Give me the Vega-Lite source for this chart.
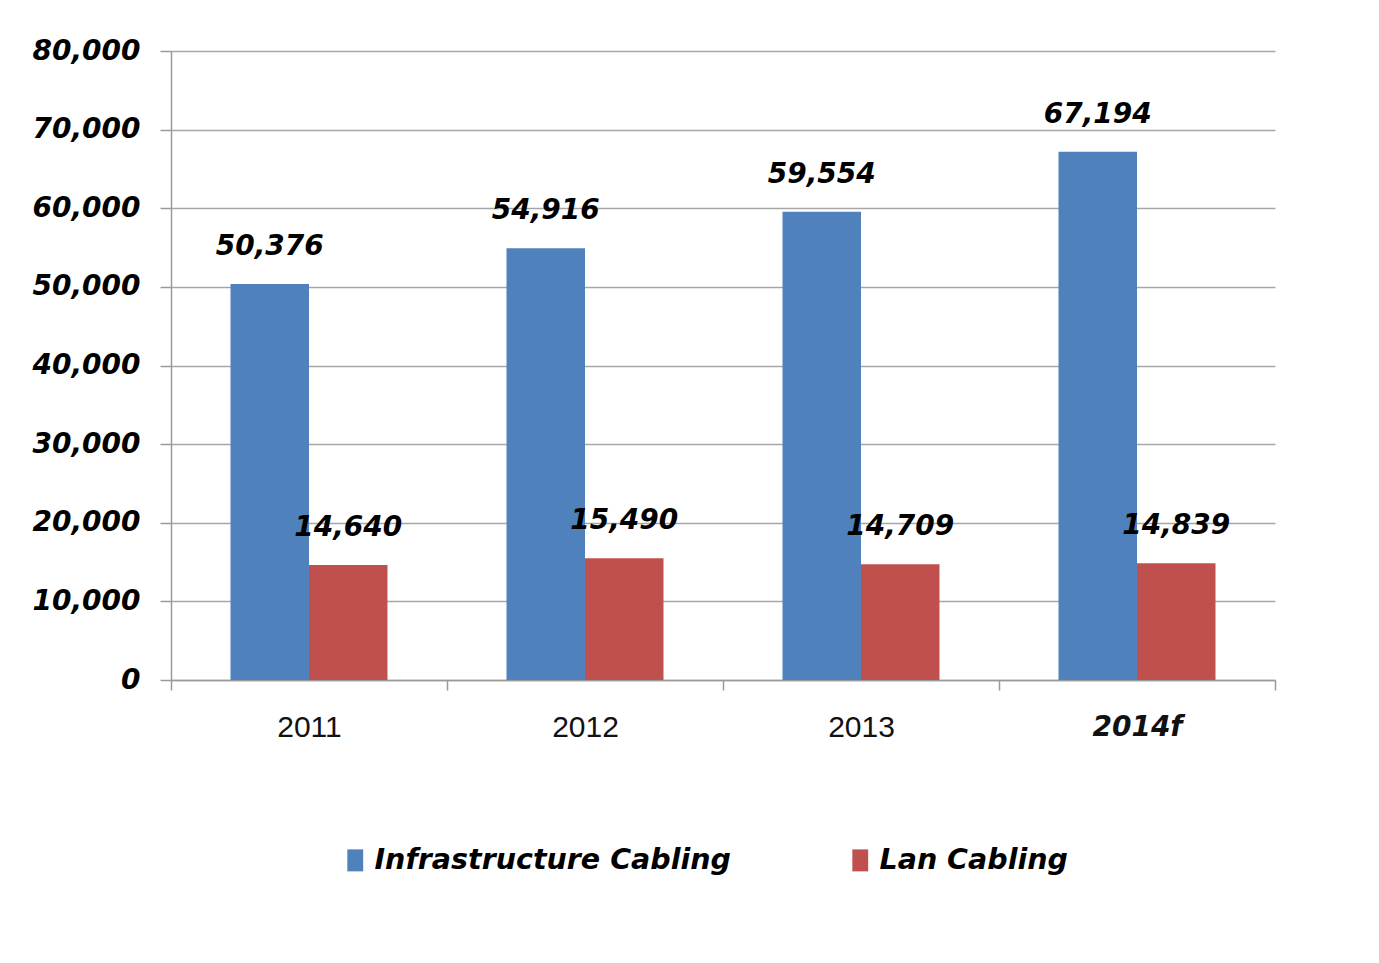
{
  "$schema": "https://vega.github.io/schema/vega-lite/v6.json",
  "width": 1104,
  "height": 629,
  "autosize": {"type": "none"},
  "padding": {"left": 171, "top": 51, "right": 104, "bottom": 283},
  "background": "white",
  "data": {
    "values": [
      {"year": "2011", "series": "Infrastructure Cabling", "value": 50376},
      {"year": "2011", "series": "Lan Cabling", "value": 14640},
      {"year": "2012", "series": "Infrastructure Cabling", "value": 54916},
      {"year": "2012", "series": "Lan Cabling", "value": 15490},
      {"year": "2013", "series": "Infrastructure Cabling", "value": 59554},
      {"year": "2013", "series": "Lan Cabling", "value": 14709},
      {"year": "2014f", "series": "Infrastructure Cabling", "value": 67194},
      {"year": "2014f", "series": "Lan Cabling", "value": 14839}
    ]
  },
  "encoding": {
    "x": {
      "field": "year",
      "type": "nominal",
      "sort": null,
      "scale": {"paddingInner": 0, "paddingOuter": 0},
      "axis": {
        "title": null,
        "labelAngle": 0,
        "tickBand": "extent",
        "tickSize": 10,
        "tickColor": "#9a9a9a",
        "tickWidth": 1.5,
        "domainColor": "#9a9a9a",
        "domainWidth": 1.5,
        "labelPadding": 37,
        "labelBaseline": "middle",
        "labelFontSize": {"condition": {"test": "datum.value == '2014f'", "value": 28}, "value": 30},
        "labelColor": "#111111",
        "labelFont": {"condition": {"test": "datum.value == '2014f'", "value": "DejaVu Sans"}, "value": "Liberation Sans"},
        "labelFontWeight": {"condition": {"test": "datum.value == '2014f'", "value": "bold"}, "value": "normal"},
        "labelFontStyle": {"condition": {"test": "datum.value == '2014f'", "value": "italic"}, "value": "normal"},
        "grid": false
      }
    },
    "xOffset": {
      "field": "series",
      "type": "nominal",
      "sort": ["Infrastructure Cabling", "Lan Cabling"],
      "scale": {"paddingInner": 0, "paddingOuter": 0.758}
    },
    "y": {
      "field": "value",
      "type": "quantitative",
      "scale": {"domain": [0, 80000], "nice": false},
      "axis": {
        "title": null,
        "values": [0, 10000, 20000, 30000, 40000, 50000, 60000, 70000, 80000],
        "format": ",.0f",
        "grid": true,
        "gridColor": "#a6a6a6",
        "gridWidth": 1.5,
        "domainColor": "#9a9a9a",
        "domainWidth": 1.5,
        "tickColor": "#9a9a9a",
        "tickWidth": 1.5,
        "tickSize": 11,
        "labelPadding": 20,
        "labelFont": "DejaVu Sans",
        "labelFontSize": 28,
        "labelFontWeight": "bold",
        "labelFontStyle": "italic",
        "labelColor": "#000000"
      }
    }
  },
  "layer": [
    {
      "mark": {"type": "bar"},
      "encoding": {
        "color": {
          "field": "series",
          "type": "nominal",
          "sort": ["Infrastructure Cabling", "Lan Cabling"],
          "scale": {"domain": ["Infrastructure Cabling", "Lan Cabling"], "range": ["#4F81BD", "#C0504D"]},
          "legend": {
            "title": null,
            "orient": "none",
            "legendX": 170,
            "legendY": 795,
            "direction": "horizontal",
            "symbolType": "M-0.72,-1H0.72V1H-0.72Z",
            "symbolSize": 484,
            "symbolStrokeWidth": 0,
            "symbolOpacity": 1,
            "labelFont": "DejaVu Sans",
            "labelFontSize": 28.5,
            "labelFontWeight": "bold",
            "labelFontStyle": "italic",
            "labelColor": "#000000",
            "labelOffset": 5,
            "labelLimit": 500,
            "columnPadding": 115
          }
        }
      }
    },
    {
      "mark": {
        "type": "text",
        "dy": -29,
        "baseline": "alphabetic",
        "font": "DejaVu Sans",
        "fontWeight": "bold",
        "fontStyle": "italic",
        "fontSize": 28,
        "color": "#000000"
      },
      "encoding": {
        "text": {"field": "value", "type": "quantitative", "format": ","}
      }
    }
  ],
  "config": {"view": {"stroke": null}}
}
